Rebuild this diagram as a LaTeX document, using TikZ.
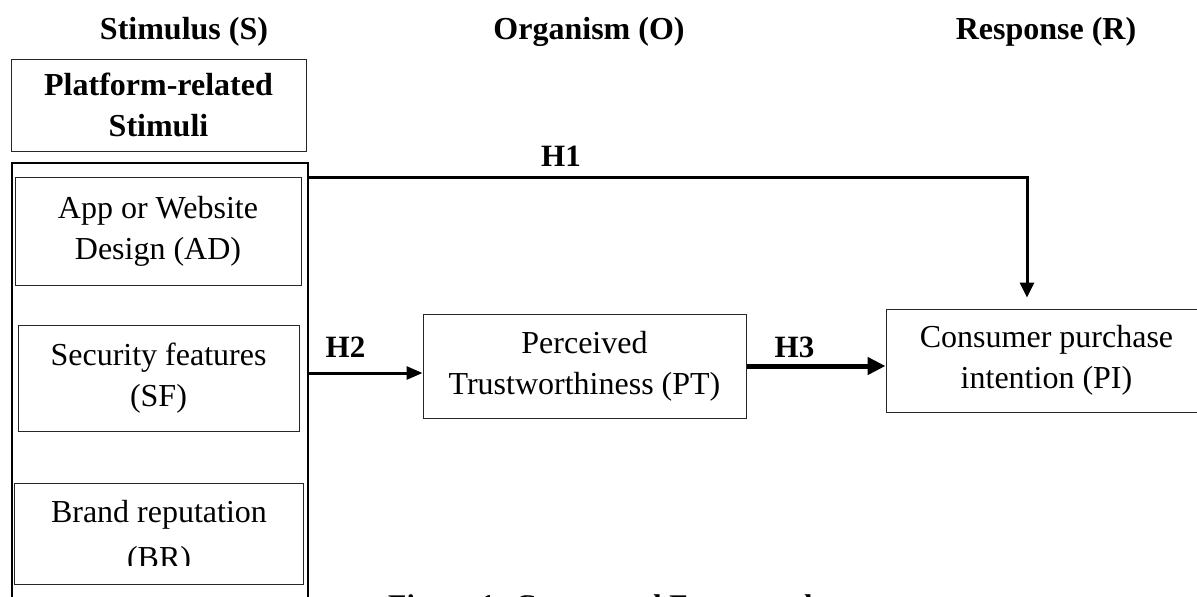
\documentclass[tikz,border=0pt]{standalone}
\usepackage{fontspec}
\setmainfont{Liberation Serif}
\usetikzlibrary{arrows.meta}
\begin{document}
\begin{tikzpicture}[x=1pt,y=-1pt,
  box/.style={draw=black!85, line width=1pt, align=center, inner sep=0pt, font=\fontsize{32}{41}\selectfont},
  headtxt/.style={anchor=base, inner sep=0pt, font=\bfseries\fontsize{32}{38}\selectfont},
  hlabel/.style={anchor=base, inner sep=0pt, font=\bfseries\fontsize{31}{36}\selectfont},
  conn/.style={line width=3pt, -{Triangle[length=15pt,width=14pt]}},
]
\useasboundingbox (0,0) rectangle (1197,597);
% column headers
\node[headtxt] (hs) at (184,39) {Stimulus (S)};
\node[headtxt] (ho) at (589,39) {Organism (O)};
\node[headtxt] (hr) at (1046,39) {Response (R)};
% stimulus column
\node[box, font=\bfseries\fontsize{32}{41}\selectfont, minimum width=295pt, minimum height=92pt] (plat) at (158.5,105) {Platform-related\\Stimuli};
\node[draw=black, line width=2pt, minimum width=296pt, minimum height=480pt, inner sep=0pt] (stim) at (160,403) {};
\node[box, minimum width=286pt, minimum height=108pt] (ad) at (158,231) {App or Website\\Design (AD)};
\node[box, minimum width=281pt, minimum height=106pt] (sf) at (158.5,378) {Security features\\(SF)};
\begin{scope}
\clip (0,484) rectangle (320,565);
\node[box, draw=none, minimum width=288pt, minimum height=100pt] (br) at (159,534) {};
\node[anchor=base, inner sep=0pt, font=\fontsize{32}{41}\selectfont, align=center] (brtxt) at (br.center |- 0,522) {Brand reputation};
\node[anchor=base, inner sep=0pt, font=\fontsize{32}{41}\selectfont] (brtxt2) at (br.center |- 0,568) {(BR)};
\end{scope}
\draw[draw=black!85, line width=1pt] (br.north west) rectangle (br.south east);
% organism and response
\node[box, minimum width=323pt, minimum height=104pt] (pt) at (584.5,366) {Perceived\\Trustworthiness (PT)};
\node[box, minimum width=321pt, minimum height=103pt] (pi) at (1046.5,360.5) {Consumer purchase\\intention (PI)};
% connectors
\coordinate (h1turn) at (1027,177.5);
\coordinate (h2y) at (0,373);
\draw[conn, shorten >=11pt] (stim.east |- h1turn) -- (h1turn) -- (h1turn |- pi.north);
\draw[line width=3pt, -{Triangle[length=16pt,width=13pt]}] (stim.east |- h2y) -- (pt.west |- h2y);
\draw[line width=5pt, -{Triangle[length=18pt,width=17pt]}] (pt.east) -- (pi.west |- pt.east);
% labels
\node[hlabel] (h1) at (561,166) {H1};
\node[hlabel] (h2) at (345.5,357) {H2};
\node[hlabel] (h3) at (794.5,357) {H3};
% caption (cut off by page edge)
\node[anchor=base west, inner sep=0pt, font=\bfseries\fontsize{30}{36}\selectfont] (cap) at (388,615) {Figure 1: Conceptual Framework};
\end{tikzpicture}
\end{document}
